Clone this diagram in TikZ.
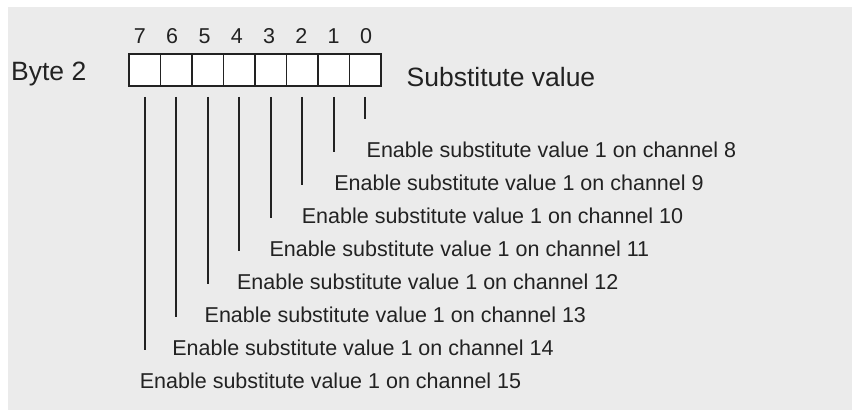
\documentclass[tikz,border=0pt]{standalone}
\usepackage{fontspec}
\setmainfont{Liberation Sans}
\definecolor{ink}{HTML}{222222}
\definecolor{panel}{HTML}{EBEBEB}
\begin{document}
\begin{tikzpicture}[x=1pt,y=-1pt,
        bit/.style={draw=ink, fill=white, line width=1.7pt, minimum width=31.5pt,
            minimum height=31.5pt, inner sep=0pt, outer sep=0pt},
        lbl/.style={text=ink, inner sep=0pt, font=\fontsize{21.5}{24}\selectfont},
        big/.style={text=ink, inner sep=0pt, font=\fontsize{26.5}{30}\selectfont},
        lead/.style={draw=ink, line width=1.8pt}]

        % Panel
        \useasboundingbox (0,0) rectangle (852,410);
        \fill[panel] (8,7) rectangle (852,410);

        % Byte with its bit numbers
        \node[big, anchor=base west] (byte) at (11,80) {Byte 2};
        \foreach \i in {0,...,7} {
            \node[bit] (cell\i) at ({365.25-31.5*\i},70) {};
            \node[lbl, anchor=base] (num\i) at ({366-32.3*\i},43) {\i};
        }
        \node[big, anchor=base west] (subst) at (406.5,86) {Substitute value};

        % Leaders and channel texts
        \foreach \i [evaluate=\i as \ch using int(\i+8)] in {0,...,7} {
            \coordinate (end\i) at ({365.25-31.5*\i},{119+33*\i});
            \draw[lead] ([yshift=-11pt]cell\i.south) -- (end\i);
            \node[lbl, anchor=base west] (txt\ch) at ({366.5-32.4*\i},{157+33.1*\i})
                {Enable substitute value 1 on channel \ch};
        }
    \end{tikzpicture}
\end{document}
